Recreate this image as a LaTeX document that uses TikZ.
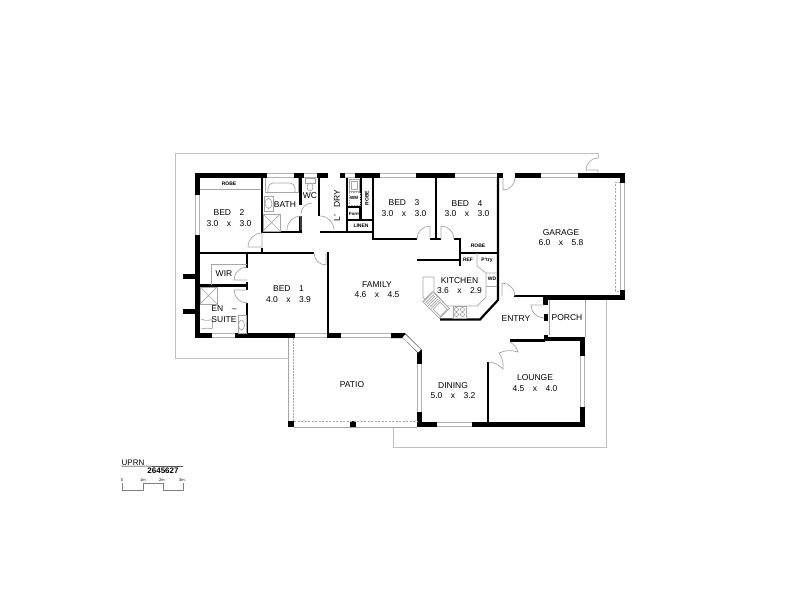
\documentclass[tikz,border=0pt]{standalone}
\usepackage{fontspec}
\setmainfont{Liberation Sans}
\newcommand{\roomfont}{\fontsize{8.5}{10.5}\selectfont\setlength{\spaceskip}{8.5pt}}
\tikzset{
	wall/.style={fill=black,draw=none},
	iwall/.style={line width=2.2pt,line cap=butt},
	window/.style={draw=gray!60,double=white,double distance=3.4pt,line width=.7pt},
	fitting/.style={draw=gray!70,line width=.7pt},
	boundary/.style={draw=gray!50,line width=1pt},
	door/.style={draw=gray!70,line width=.7pt},
	room/.style={align=center,inner sep=0pt,font=\roomfont},
	tag/.style={inner sep=0pt,font=\fontsize{5}{6}\selectfont\bfseries},
	scalemark/.style={inner sep=0pt,font=\fontsize{4}{5}\selectfont}
}
\begin{document}
\begin{tikzpicture}[x=1pt,y=-1pt,>=stealth]
	\useasboundingbox (0,0) rectangle (800,600);
	% site boundary
	\draw[boundary] (598,158)--(598,153)--(175,153)--(175,358)--(288,358);
	\draw[boundary] (393,427)--(393,447)--(606,447)--(606,298);
	\draw[door] (598,158) arc (270:180:12)--(598,170)--(598,173);
	% outer walls
	\foreach \xa/\ya/\xb/\yb in {195/173/267/178,294/173/304/178,317/173/328/178,340/173/345/178,355/173/380/178,416/173/455/178,497/173/503/178,515/173/541/178,578/173/625/178,620/173/625/183,620/290/625/300,
		195/173/200/195,195/235/200/338,183/274/195/279,183/309/195/314,195/333/212/338,235/333/295/338,327/333/341/338,391/333/405/338,
		417/350/422/364,417/412/422/427,417/422/437/427,472/422/585/427,580/337/585/356,580/407/585/427,544/337/585/341,
		543/295/625/300,543/295/548/305,544/314/548/321,544/335/548/340,288/421/294/427,350/421/356/427}
		\fill[wall] (\xa,\ya) rectangle (\xb,\yb);
	\fill[wall] (391,333)--(405,333)--(422,350)--(417,352)--(403,338)--(391,338)--cycle;
	% windows
	\foreach \xa/\xb in {267/294,304/317,345/355,380/416,455/497,541/578}
		\draw[window] (\xa,175.5)--(\xb,175.5);
	\foreach \xa/\xb in {212/235,295/327,341/391}
		\draw[window] (\xa,335.5)--(\xb,335.5);
	\draw[window] (197.5,195)--(197.5,235);
	\draw[window] (622.5,183)--(622.5,290);
	\draw[window] (404,336)--(419.5,351);
	\draw[window] (419.5,364)--(419.5,412);
	\draw[window] (437,424.5)--(472,424.5);
	\draw[window] (582.5,356)--(582.5,407);
	\draw[window] (546,321)--(546,335);
	% inner walls
	\draw[iwall] (262,178)--(262,233);
	\draw[iwall] (262,232)--(301,232);
	\draw[iwall] (320,232)--(352,232);
	\draw[iwall] (262,248)--(262,253);
	\draw[iwall] (300.5,178)--(300.5,205);
	\draw[iwall] (300.5,216)--(300.5,233);
	\draw[iwall] (319,178)--(319,216);
	\draw[iwall] (347,178)--(347,232);
	\draw[iwall] (361,178)--(361,220);
	\draw[iwall] (347,220)--(373,220);
	\draw[iwall] (347,232)--(373,232);
	\draw[iwall] (373,178)--(373,240);
	\draw[iwall] (372,239)--(417,239);
	\draw[iwall] (430,239)--(441,239);
	\draw[iwall] (454,239)--(461,239);
	\draw[iwall] (436,178)--(436,239);
	\draw[iwall] (460,238)--(460,266);
	\draw[iwall] (459,253)--(498,253);
	\draw[iwall] (417,260)--(460,260);
	\draw[iwall] (498,178)--(498,300)--(480,319.5)--(440,319.5);
	\draw[iwall] (514,296)--(544,296);
	\draw[iwall] (200,253)--(314,253);
	\draw[iwall] (328,252)--(328,334);
	\draw[iwall] (247,253)--(247,268);
	\draw[iwall] (247,282)--(247,290);
	\draw[iwall] (247,303)--(247,334);
	\draw[iwall] (200,285.5)--(247,285.5);
	\draw[iwall] (488,422)--(488,362);
	\draw[iwall] (510,340.5)--(545,340.5);
	\draw[door] (200,189)--(261,189);
	% doors
	\draw[door] (248,247)--(262,247)--(262,233) arc (270:180:14);
	\draw[door] (301,216)--(301,230) (287,230) arc (180:270:14);
	\draw[door] (301,214) arc (180:270:11);
	\draw[door] (320,216) arc (270:360:14);
	\draw[door] (430,239)--(430,226) arc (270:180:13);
	\draw[door] (441,239)--(441,226) arc (270:360:13);
	\draw[door] (326,253)--(326,265) (314,253) arc (180:90:12);
	\draw[door] (247,280)--(234,280) arc (180:270:13);
	\draw[door] (247,290)--(234,290) arc (180:90:13);
	\draw[door] (503,178)--(503,190) arc (90:0:12);
	\draw[door] (502,296)--(502,283) arc (270:360:13);
	\draw[door] (544,305)--(531,305) arc (180:90:13);
	\draw[door] (510,342) to[bend left=20] (518,352) to[bend right=20] (499,353) to[bend left=20] (503,369) to[bend right=20] (488,362);
	% patio and porch edges
	\draw[fitting] (288,338)--(288,421);
	\draw[fitting,dash pattern=on 1.5pt off 1.5pt] (293,338)--(293,421);
	\draw[fitting,dash pattern=on 2pt off 1.5pt] (294,421.5)--(417,421.5);
	\draw[fitting] (294,427)--(417,427);
	\draw[fitting] (585,300)--(585,337);
	\draw[fitting] (549,300)--(549,335);
	% garage door
	\draw[fitting,dash pattern=on 2pt off 1.5pt] (620,182)--(615,182)--(615,291)--(620,291);
	% bathroom fittings
	\draw[fitting] (265,178)--(265,192)--(298,192)--(298,178);
	\draw[fitting,rounded corners=5pt] (268,192)--(268,183)--(295,183)--(295,192);
	\draw[fitting] (264,196) rectangle (273,211);
	\draw[fitting] (268.5,203.5) ellipse (3.5 and 5);
	\draw[fitting] (263,214) rectangle (280,231);
	\draw[fitting] (263,214)--(280,231) (263,231)--(280,214);
	\draw[fitting] (305,178) rectangle (315,183);
	\draw[fitting] (310,187) ellipse (3 and 4);
	% laundry
	\draw[fitting] (349,179) rectangle (359,191);
	\draw[fitting] (351,181) rectangle (357,189);
	\draw[fitting,dash pattern=on 1.5pt off 1pt] (349,192) rectangle (360,205);
	\draw[iwall,line width=1.5pt] (348,207)--(360,207)--(360,220);
	% wir and en-suite
	\draw[fitting] (247,264)--(211,264)--(211,285);
	\draw[fitting] (200,287) rectangle (217,304);
	\draw[fitting] (200,287)--(217,304) (200,304)--(217,287);
	\draw[fitting] (238,315) rectangle (246,333);
	\draw[fitting] (241.5,325) ellipse (3 and 5);
	\draw[fitting,rounded corners=2pt] (201,319)--(207,321)--(213,319)--(212,325)--(213,329)--(207,328)--(201,329);
	% kitchen bench
	\draw[fitting] (423,297)--(423,277)--(434,277)--(434,292)--(447,306)--(477,306)--(486,297)--(486,273)--(497,273);
	\draw[fitting] (423,297)--(440,319);
	\draw[fitting] (486,286)--(497,286);
	\draw[fitting] (477,253)--(477,266)--(486,273);
	\begin{scope}[shift={(436,305)},rotate=-45]
		\draw[fitting,fill=white] (-12,-7) rectangle (12,7);
		\foreach \s in {-11,-9,...,-1}
			\draw[fitting] (\s,-6)--(\s,6);
		\draw[fitting] (1,-5) rectangle (11,5);
	\end{scope}
	\draw[fitting] (453,306) rectangle (466,318);
	\foreach \cx/\cy in {456.5/309.5,462.5/309.5,456.5/314.5,462.5/314.5}
		\draw[fitting] (\cx,\cy) circle (2);
	% room labels
	\node[room] (bedtwo) at (229,218) {BED 2\\3.0 x 3.0};
	\node[room] (bedthree) at (404,208) {BED 3\\3.0 x 3.0};
	\node[room] (bedfour) at (467,208.5) {BED 4\\3.0 x 3.0};
	\node[room] (garage) at (561,237.5) {GARAGE\\6.0 x 5.8};
	\node[room] (bedone) at (288.5,294) {BED 1\\4.0 x 3.9};
	\node[room] (family) at (377,289.5) {FAMILY\\4.6 x 4.5};
	\node[room] (kitchen) at (459.5,285.5) {KITCHEN\\3.6 x 2.9};
	\node[room] (dining) at (453,390.5) {DINING\\5.0 x 3.2};
	\node[room] (lounge) at (535,383) {LOUNGE\\4.5 x 4.0};
	\node[room] (ensuite) at (224,314) {EN –\\SUITE};
	\node[room] (bath) at (285,205) {BATH};
	\node[room] (wc) at (310,196) {WC};
	\node[room] (wir) at (224,274) {WIR};
	\node[room] (patio) at (352,385) {PATIO};
	\node[room] (entry) at (516,319) {ENTRY};
	\node[room] (porch) at (567,318) {PORCH};
	\node[room,rotate=90] (dry) at (337,199) {DRY};
	\node[room,rotate=90] (lobby) at (337,218) {L'};
	% small labels
	\node[tag] (robetwo) at (229,184) {ROBE};
	\node[tag] (robefour) at (478,246) {ROBE};
	\node[tag,rotate=90] (robethree) at (367,198) {ROBE};
	\node[tag,font=\fontsize{4.5}{5}\selectfont\bfseries] (wm) at (354,198) {WM};
	\node[tag,font=\fontsize{4.5}{5}\selectfont\bfseries] (form) at (354.5,213.5) {Form};
	\node[tag] (linen) at (361,226) {LINEN};
	\node[tag] (fridge) at (468,260) {REF};
	\node[tag] (pantry) at (487,260) {P'try};
	\node[tag] (wd) at (492,279) {WD};
	% reference and scale
	\node[inner sep=0pt,font=\fontsize{8}{9}\selectfont] (uprn) at (133,463) {UPRN};
	\node[inner sep=0pt,font=\fontsize{8}{9}\selectfont\bfseries] (number) at (163,471) {2645627};
	\draw[line width=.5pt] (uprn.south west)--(183,466.5);
	\draw[draw=gray,line width=.6pt] (122,483)--(122,490)--(143,490)--(143,483)--(163,483)--(163,490)--(183,490)--(183,483);
	\node[scalemark] (zero) at (122,480) {0};
	\node[scalemark] (one) at (143,480) {1m};
	\node[scalemark] (two) at (162,480) {2m};
	\node[scalemark] (three) at (182,480) {3m};
\end{tikzpicture}
\end{document}
